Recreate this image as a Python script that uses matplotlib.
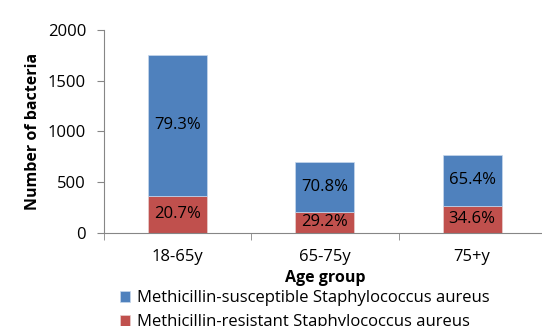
"""
Stacked bar chart: S. aureus counts by age group
"""
import matplotlib.pyplot as plt
import numpy as np

plt.rcParams['font.family'] = ['Open Sans', 'DejaVu Sans']

age_groups = ["18-65y", "65-75y", "75+y"]
mrsa = [363, 203, 265]
mssa = [1392, 492, 502]
mrsa_pct = ["20.7%", "29.2%", "34.6%"]
mssa_pct = ["79.3%", "70.8%", "65.4%"]

blue = "#4F81BD"
red = "#C0504D"
axis_grey = "#868686"

fig = plt.figure(figsize=(5.42, 3.26), dpi=100)
ax = fig.add_axes([0.192, 0.286, 0.815, 0.622])

x = np.arange(len(age_groups))
bars_r = ax.bar(x, mrsa, width=0.4, color=red, edgecolor="#e8d0d0", linewidth=0.5,
                label="Methicillin-resistant Staphylococcus aureus")
bars_b = ax.bar(x, mssa, width=0.4, bottom=mrsa, color=blue, edgecolor="#c8d8ec",
                linewidth=0.5, label="Methicillin-susceptible Staphylococcus aureus")

# percentage labels centred in each segment
for i in range(len(x)):
    ax.text(x[i], mrsa[i] / 2, mrsa_pct[i], ha="center", va="center", fontsize=12)
    ax.text(x[i], mrsa[i] + mssa[i] / 2, mssa_pct[i], ha="center", va="center", fontsize=12)

ax.set_xlim(-0.5, 2.5)
ax.set_ylim(0, 2000)
ax.set_yticks([0, 500, 1000, 1500, 2000])
ax.set_xticks(x)
ax.set_xticklabels(age_groups, fontsize=12)
ax.set_xticks([-0.5, 0.5, 1.5, 2.5], minor=True)
ax.tick_params(axis="x", which="major", length=0, pad=12)
ax.tick_params(axis="x", which="minor", length=5, color=axis_grey)
ax.tick_params(axis="y", length=5, color=axis_grey, labelsize=12, pad=8)

for side in ["top", "right"]:
    ax.spines[side].set_visible(False)
for side in ["left", "bottom"]:
    ax.spines[side].set_color(axis_grey)

ax.set_xlabel("Age group", fontsize=11.5, fontweight="bold", labelpad=3)
ax.set_ylabel("Number of bacteria", fontsize=11.5, fontweight="bold", labelpad=5)

fig.legend([bars_b, bars_r],
           ["Methicillin-susceptible Staphylococcus aureus",
            "Methicillin-resistant Staphylococcus aureus"],
           loc="upper left", bbox_to_anchor=(0.222, 0.11), frameon=False,
           fontsize=12, handlelength=0.6, handleheight=0.6, handletextpad=0.4,
           labelspacing=0.5, borderpad=0, borderaxespad=0)

fig.savefig("out.png", dpi=100)
